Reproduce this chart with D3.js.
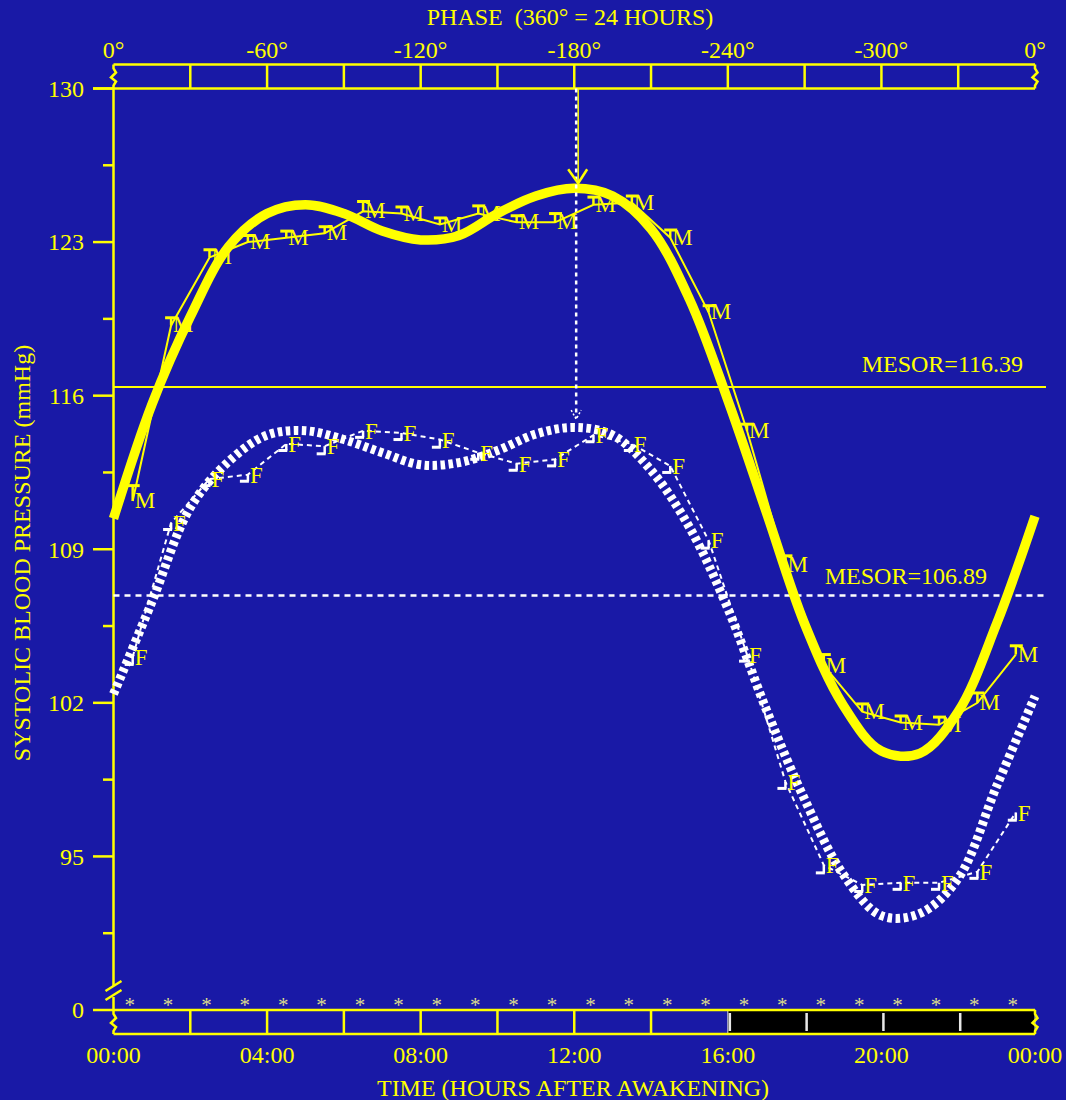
<!DOCTYPE html>
<html lang="en">
<head>
<meta charset="utf-8">
<title>Systolic blood pressure by time after awakening</title>
<script src="https://cdn.jsdelivr.net/npm/d3@7"></script>
<style>
  body { margin: 0; background: #1919a6; }
  svg text { font-family: "Liberation Serif", "Times New Roman", serif; fill: #ffff00; }
  .lbl { font-size: 24px; }
  .let { font-size: 23px; }
  .star { font-size: 21px; fill: #dcdc8c; }
</style>
</head>
<body>
<script>
var W = 1066, H = 1100;

// ---- data ----
var gridHours = [0, 2, 4, 6, 8, 10, 12, 14, 16, 18, 20, 22, 24];
var labelHours = [0, 4, 8, 12, 16, 20, 24];
var timeLabels = ["00:00", "04:00", "08:00", "12:00", "16:00", "20:00", "00:00"];
var phaseLabels = ["0°", "-60°", "-120°", "-180°", "-240°", "-300°", "0°"];
var yMajor = [130, 123, 116, 109, 102, 95];
var yMinor = [126.5, 119.5, 112.5, 105.5, 98.5, 91.5];
var yZeroAt = 88;   // broken axis: "0" sits where 88 would be

var meanHours = [0.5, 1.5, 2.5, 3.5, 4.5, 5.5, 6.5, 7.5, 8.5, 9.5, 10.5, 11.5,
                 12.5, 13.5, 14.5, 15.5, 16.5, 17.5, 18.5, 19.5, 20.5, 21.5, 22.5, 23.5];
var maleMean = [111.2, 119.2, 122.3, 123.0, 123.2, 123.4, 124.4, 124.3, 123.8, 124.3, 123.9, 123.9,
                124.7, 124.8, 123.2, 119.8, 114.4, 108.3, 103.7, 101.6, 101.1, 101.0, 102.0, 104.2];
var maleSE = [0.7, 0.35, 0.35, 0.3, 0.3, 0.3, 0.45, 0.3, 0.3, 0.35, 0.3, 0.4,
              0.35, 0.3, 0.35, 0.3, 0.3, 0.4, 0.5, 0.35, 0.3, 0.35, 0.45, 0.4];
var femaleMean = [104.1, 110.2, 112.2, 112.4, 113.8, 113.7, 114.4, 114.3, 114.0, 113.4, 112.9, 113.1,
                  114.2, 113.8, 112.8, 109.4, 104.2, 98.4, 94.6, 93.7, 93.8, 93.8, 94.3, 97.0];
var femaleSE = [0.35, 0.3, 0.3, 0.3, 0.3, 0.35, 0.3, 0.3, 0.35, 0.3, 0.3, 0.3,
                0.3, 0.3, 0.3, 0.35, 0.3, 0.3, 0.35, 0.3, 0.3, 0.3, 0.3, 0.35];

var fitHours = [0, 1, 2, 3, 4, 5, 6, 7, 8, 9, 10, 11, 12, 13, 14, 15, 16, 17, 18, 19, 20, 21, 22, 23, 24];
var maleFit = [110.4, 115.6, 119.6, 122.8, 124.3, 124.7, 124.3, 123.5, 123.1, 123.3, 124.3, 125.1, 125.45,
               125.1, 123.6, 120.4, 115.8, 110.7, 105.6, 101.9, 99.8, 99.7, 101.6, 105.6, 110.5];
var femaleFit = [102.4, 106.6, 110.9, 113.0, 114.2, 114.4, 114.0, 113.4, 112.85, 112.95, 113.5, 114.25, 114.55,
                 114.2, 112.6, 110.0, 106.3, 101.7, 97.6, 94.2, 92.3, 92.4, 94.0, 98.2, 102.3];

var mesorMale = 116.39, mesorFemale = 106.89;
var acroHour = 12.05, acroMale = 125.5, acroFemale = 114.7;
var sleepFrom = 16, sleepTo = 24;
var starHours = [0.42, 1.42, 2.42, 3.42, 4.42, 5.42, 6.42, 7.42, 8.42, 9.42, 10.42, 11.42,
                 12.42, 13.42, 14.42, 15.42, 16.42, 17.42, 18.42, 19.42, 20.42, 21.42, 22.42, 23.42];

// ---- scales ----
var x = d3.scaleLinear().domain([0, 24]).range([113.5, 1035]);
var y = d3.scaleLinear().domain([88, 130]).range([1010, 88.5]);
var YEL = "#ffff00", WHT = "#ffffff";
var barH = 24;

var svg = d3.select("body").append("svg").attr("width", W).attr("height", H);
svg.append("rect").attr("width", W).attr("height", H).attr("fill", "#1919a6");

// ---- top phase bar ----
var yTopBar = y(130) - barH;
var topBar = svg.append("g");
topBar.append("line").attr("x1", x(0)).attr("x2", x(24)).attr("y1", yTopBar).attr("y2", yTopBar)
   .attr("stroke", YEL).attr("stroke-width", 2.5);
topBar.append("line").attr("x1", 93).attr("x2", x(24)).attr("y1", y(130)).attr("y2", y(130))
   .attr("stroke", YEL).attr("stroke-width", 2.5);
topBar.selectAll(".div").data(gridHours.slice(1, -1)).enter().append("line")
   .attr("x1", d => x(d)).attr("x2", d => x(d)).attr("y1", yTopBar).attr("y2", y(130))
   .attr("stroke", YEL).attr("stroke-width", 2.5);

function squiggle(x0, y0, y1) {
  var m = (y0 + y1) / 2;
  return "M" + x0 + "," + y0 + " L" + x0 + "," + (y0 + 4) + " L" + (x0 + 2.5) + "," + (m - 4) +
         " L" + (x0 - 2.5) + "," + (m + 1) + " L" + (x0 + 2.5) + "," + (m + 5) +
         " L" + x0 + "," + (y1 - 3) + " L" + x0 + "," + y1;
}
[x(0), x(24)].forEach(function (xx) {
  topBar.append("path").attr("d", squiggle(xx, yTopBar, y(130)))
     .attr("fill", "none").attr("stroke", YEL).attr("stroke-width", 2.5);
});

svg.selectAll(".plbl").data(phaseLabels).enter().append("text")
   .attr("class", "lbl").attr("x", (d, i) => x(labelHours[i])).attr("y", 58)
   .attr("text-anchor", "middle").text(d => d);
svg.append("text").attr("class", "lbl").attr("x", 570).attr("y", 25)
   .attr("text-anchor", "middle").style("white-space", "pre")
   .text("PHASE  (360° = 24 HOURS)");

// ---- bottom time bar ----
var yBot = y(yZeroAt);
var botBar = svg.append("g");
botBar.append("rect").attr("x", x(sleepFrom)).attr("y", yBot).attr("width", x(sleepTo) - x(sleepFrom))
   .attr("height", barH).attr("fill", "#000").attr("stroke", "#e0e0e0").attr("stroke-width", 1);
botBar.append("line").attr("x1", 93).attr("x2", x(24)).attr("y1", yBot).attr("y2", yBot)
   .attr("stroke", YEL).attr("stroke-width", 2.5);
botBar.append("line").attr("x1", x(0)).attr("x2", x(24)).attr("y1", yBot + barH).attr("y2", yBot + barH)
   .attr("stroke", YEL).attr("stroke-width", 2.5);
botBar.selectAll(".div").data(gridHours.slice(1, -1)).enter().append("line")
   .attr("x1", d => x(d) + (d >= sleepFrom ? 2 : 0)).attr("x2", d => x(d) + (d >= sleepFrom ? 2 : 0))
   .attr("y1", d => yBot + (d >= sleepFrom ? 3 : 0)).attr("y2", d => yBot + barH - (d >= sleepFrom ? 3 : 0))
   .attr("stroke", d => d >= sleepFrom ? "#e8e8e8" : YEL).attr("stroke-width", 2.5);
[x(0), x(24)].forEach(function (xx) {
  botBar.append("path").attr("d", squiggle(xx, yBot, yBot + barH))
     .attr("fill", "none").attr("stroke", YEL).attr("stroke-width", 2.5);
});
svg.selectAll(".tlbl").data(timeLabels).enter().append("text")
   .attr("class", "lbl").attr("x", (d, i) => x(labelHours[i])).attr("y", 1063)
   .attr("text-anchor", "middle").text(d => d);
svg.append("text").attr("class", "lbl").attr("x", 573).attr("y", 1096)
   .attr("text-anchor", "middle").text("TIME (HOURS AFTER AWAKENING)");

svg.selectAll(".star").data(starHours).enter().append("text")
   .attr("class", "star").attr("x", d => x(d)).attr("y", 1012)
   .attr("text-anchor", "middle").text("*");

// ---- y axis ----
var ax = svg.append("g");
ax.append("line").attr("x1", x(0)).attr("x2", x(0)).attr("y1", y(130)).attr("y2", 986)
  .attr("stroke", YEL).attr("stroke-width", 2.5);
ax.append("line").attr("x1", x(0)).attr("x2", x(0)).attr("y1", 997).attr("y2", yBot)
  .attr("stroke", YEL).attr("stroke-width", 2.5);
[0, 9].forEach(function (o) {
  ax.append("line").attr("x1", x(0) - 8).attr("x2", x(0) + 8)
    .attr("y1", 991 + o).attr("y2", 981 + o).attr("stroke", YEL).attr("stroke-width", 2.5);
});
ax.selectAll(".maj").data(yMajor).enter().append("line")
  .attr("x1", 93).attr("x2", x(0)).attr("y1", d => y(d)).attr("y2", d => y(d))
  .attr("stroke", YEL).attr("stroke-width", 2.5);
ax.selectAll(".min").data(yMinor).enter().append("line")
  .attr("x1", 103).attr("x2", x(0)).attr("y1", d => y(d)).attr("y2", d => y(d))
  .attr("stroke", YEL).attr("stroke-width", 2.5);
ax.selectAll(".ylbl").data(yMajor.concat([yZeroAt])).enter().append("text")
  .attr("class", "lbl").attr("x", 84).attr("y", d => y(d)).attr("dy", "0.35em")
  .attr("text-anchor", "end").text(d => d === yZeroAt ? "0" : d);
svg.append("text").attr("class", "lbl")
  .attr("transform", "translate(30,553) rotate(-90)")
  .attr("text-anchor", "middle").text("SYSTOLIC BLOOD PRESSURE (mmHg)");

// ---- MESOR lines ----
svg.append("line").attr("x1", x(0)).attr("x2", 1046).attr("y1", y(mesorMale)).attr("y2", y(mesorMale))
   .attr("stroke", YEL).attr("stroke-width", 2);
svg.append("line").attr("x1", x(0)).attr("x2", 1046).attr("y1", y(mesorFemale)).attr("y2", y(mesorFemale))
   .attr("stroke", WHT).attr("stroke-width", 2.5).attr("stroke-dasharray", "6,5");
svg.append("text").attr("class", "lbl").attr("x", 1023).attr("y", y(mesorMale) - 15)
   .attr("text-anchor", "end").text("MESOR=" + mesorMale);
svg.append("text").attr("class", "lbl").attr("x", 987).attr("y", y(mesorFemale) - 12)
   .attr("text-anchor", "end").text("MESOR=" + mesorFemale);

// ---- fitted curves ----
var fitLine = d3.line().x((d, i) => x(fitHours[i])).y(d => y(d)).curve(d3.curveCatmullRom);
svg.append("path").attr("d", fitLine(femaleFit)).attr("fill", "none")
   .attr("stroke", WHT).attr("stroke-width", 9).attr("stroke-dasharray", "4.5,3.5");
svg.append("path").attr("d", fitLine(maleFit)).attr("fill", "none")
   .attr("stroke", YEL).attr("stroke-width", 9.5).attr("stroke-linejoin", "round");

// ---- acrophase marker ----
svg.append("line").attr("x1", x(acroHour) + 2).attr("x2", x(acroHour) + 2)
   .attr("y1", y(130)).attr("y2", y(acroMale) - 4).attr("stroke", YEL).attr("stroke-width", 1.5);
svg.append("line").attr("x1", x(acroHour)).attr("x2", x(acroHour))
   .attr("y1", y(130)).attr("y2", y(acroFemale) - 6).attr("stroke", WHT).attr("stroke-width", 2.5)
   .attr("stroke-dasharray", "4,4");
svg.append("path")
   .attr("d", "M" + (x(acroHour) - 8) + "," + (y(acroMale) - 18) + " L" + (x(acroHour) + 2) + "," + (y(acroMale) - 4) +
              " L" + (x(acroHour) + 11) + "," + (y(acroMale) - 18))
   .attr("fill", "none").attr("stroke", YEL).attr("stroke-width", 2.5);
svg.append("path")
   .attr("d", "M" + (x(acroHour) - 5) + "," + (y(acroFemale) - 14) + " L" + x(acroHour) + "," + (y(acroFemale) - 5) +
              " L" + (x(acroHour) + 5) + "," + (y(acroFemale) - 14))
   .attr("fill", "none").attr("stroke", WHT).attr("stroke-width", 1.5).attr("stroke-dasharray", "2,2");

// ---- observed hourly means ----
var obsLine = d3.line().x((d, i) => x(meanHours[i])).y(d => y(d));
svg.append("path").attr("d", obsLine(femaleMean)).attr("fill", "none")
   .attr("stroke", WHT).attr("stroke-width", 2).attr("stroke-dasharray", "5,4");
svg.append("path").attr("d", obsLine(maleMean)).attr("fill", "none")
   .attr("stroke", YEL).attr("stroke-width", 2);

var fm = svg.append("g");
femaleMean.forEach(function (v, i) {
  var px = x(meanHours[i]), py = y(v), pe = y(v - femaleSE[i]);
  fm.append("line").attr("x1", px).attr("x2", px).attr("y1", py).attr("y2", pe)
    .attr("stroke", WHT).attr("stroke-width", 2.5);
  fm.append("line").attr("x1", px - 8).attr("x2", px + 1).attr("y1", pe).attr("y2", pe)
    .attr("stroke", WHT).attr("stroke-width", 3);
  fm.append("text").attr("class", "let").attr("x", px + 2).attr("y", py + 8).text("F");
});
var mm = svg.append("g");
maleMean.forEach(function (v, i) {
  var px = x(meanHours[i]), py = y(v), pe = y(v + maleSE[i]);
  mm.append("line").attr("x1", px).attr("x2", px).attr("y1", py).attr("y2", pe)
    .attr("stroke", YEL).attr("stroke-width", 2.5);
  mm.append("line").attr("x1", px - 6).attr("x2", px + 7).attr("y1", pe).attr("y2", pe)
    .attr("stroke", YEL).attr("stroke-width", 3);
  mm.append("text").attr("class", "let").attr("x", px + 2).attr("y", py + 7).text("M");
});
</script>
</body>
</html>
